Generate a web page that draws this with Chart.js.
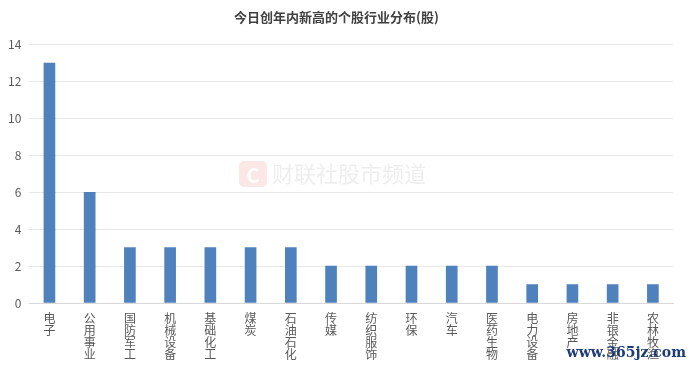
<!DOCTYPE html>
<html>
<head>
<meta charset="utf-8">
<script src="https://cdn.jsdelivr.net/npm/chart.js@4/dist/chart.umd.min.js"></script>
<style>
  html, body { margin: 0; padding: 0; background: #fff; }
  #wrap { width: 693px; height: 370px; position: relative; }
</style>
</head>
<body>
<div id="wrap"><canvas id="industryChart"></canvas></div>
<script>
const industries = ['电子', '公用事业', '国防军工', '机械设备', '基础化工', '煤炭', '石油石化', '传媒',
  '纺织服饰', '环保', '汽车', '医药生物', '电力设备', '房地产', '非银金融', '农林牧渔'];
const stockCounts = [13, 6, 3, 3, 3, 3, 3, 2, 2, 2, 2, 2, 1, 1, 1, 1];
const yTicks = [0, 2, 4, 6, 8, 10, 12, 14];

const fontFamily = '"Noto Sans CJK SC", "Microsoft YaHei", sans-serif';

// faint watermark text, like the source image
const watermark = {
  id: 'watermark',
  beforeDatasetsDraw(chart) {
    const ctx = chart.ctx;
    ctx.save();
    ctx.fillStyle = 'rgba(240, 120, 120, 0.18)';
    ctx.beginPath();
    ctx.roundRect(239, 161, 28, 26, 5);
    ctx.fill();
    ctx.fillStyle = 'rgba(255,255,255,0.95)';
    ctx.font = 'bold 20px ' + fontFamily;
    ctx.textAlign = 'center';
    ctx.textBaseline = 'middle';
    ctx.fillText('C', 253, 175);
    ctx.fillStyle = 'rgba(160, 160, 160, 0.18)';
    ctx.font = '22px ' + fontFamily;
    ctx.textAlign = 'left';
    ctx.fillText('财联社股市频道', 272, 174);
    ctx.restore();
  },
  afterDraw(chart) {
    const ctx = chart.ctx;
    ctx.save();
    ctx.fillStyle = '#1d3c78';
    ctx.font = 'bold 14px "DejaVu Serif", serif';
    ctx.textAlign = 'right';
    ctx.textBaseline = 'middle';
    ctx.fillText('www.365jz.com', 686, 353);
    ctx.restore();
  }
};

new Chart(document.getElementById('industryChart').getContext('2d'), {
  type: 'bar',
  data: {
    labels: industries.map(name => name.split('')),
    datasets: [{
      label: '个股数',
      data: stockCounts,
      backgroundColor: '#4f81bd',
      barThickness: 11
    }]
  },
  options: {
    responsive: true,
    maintainAspectRatio: false,
    animation: false,
    layout: { padding: { left: 0, right: 20, top: 4, bottom: 0 } },
    plugins: {
      legend: { display: false },
      tooltip: { enabled: false },
      title: {
        display: true,
        text: '今日创年内新高的个股行业分布(股)',
        color: '#404040',
        font: { family: fontFamily, size: 13, weight: 'bold' },
        padding: { top: 5, bottom: 20 }
      }
    },
    scales: {
      x: {
        grid: { display: false, drawTicks: false },
        border: { color: '#d9d9d9' },
        ticks: {
          color: '#595959',
          maxRotation: 0,
          autoSkip: false,
          padding: 9,
          font: { family: fontFamily, size: 12, lineHeight: 1.02 }
        }
      },
      y: {
        min: 0,
        max: 14,
        afterBuildTicks(axis) { axis.ticks = yTicks.map(v => ({ value: v })); },
        grid: { color: '#e8e8e8', drawTicks: false },
        border: { display: false },
        ticks: {
          color: '#595959',
          padding: 8,
          font: { family: fontFamily, size: 12 }
        }
      }
    }
  },
  plugins: [watermark]
});
</script>
</body>
</html>
